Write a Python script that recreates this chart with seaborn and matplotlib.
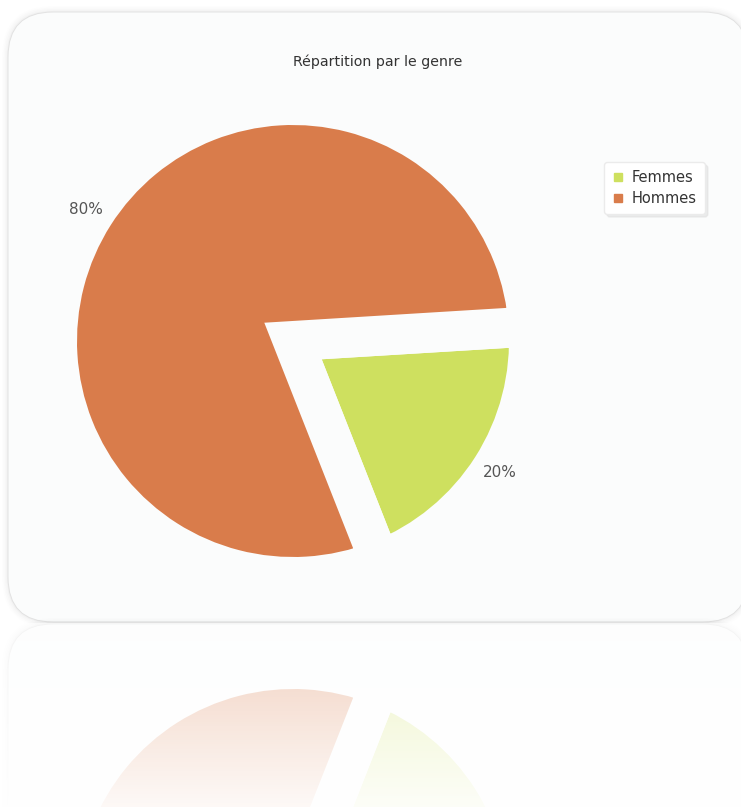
import numpy as np
import matplotlib
matplotlib.use('Agg')
import matplotlib.pyplot as plt
from matplotlib.patches import FancyBboxPatch
from matplotlib.lines import Line2D
import seaborn as sns

# ---- data ----
categories = ['Femmes', 'Hommes']
values = [20, 80]
colors_hex = ['#cee05f', '#d97c4b']
title = 'Répartition par le genre'

sns.set_theme(style='white')
plt.rcParams['font.family'] = ['DejaVu Sans']
palette = sns.color_palette(colors_hex)

W, H = 741, 807
fig = plt.figure(figsize=(W / 100, H / 100), dpi=100)
fig.patch.set_facecolor('white')


def ax_px(x0, y0, w, h):
    return fig.add_axes([x0 / W, 1 - (y0 + h) / H, w / W, h / H])


# background axes in pixel units
bg = ax_px(0, 0, W, H)
bg.set_xlim(0, W)
bg.set_ylim(H, 0)
bg.axis('off')

card_col = '#fbfcfc'


def card(ax, y_top, y_bot):
    for i, a in enumerate([0.035, 0.025, 0.018, 0.01]):
        pad = 1.5 * (i + 1)
        ax.add_patch(FancyBboxPatch((8 - pad, y_top - pad), 740 + 2 * pad,
                                    (y_bot - y_top) + 2 * pad,
                                    boxstyle=f'round,pad=0,rounding_size={45 + pad}',
                                    fc='#808080', ec='none', alpha=a))
    ax.add_patch(FancyBboxPatch((8, y_top), 740, y_bot - y_top,
                                boxstyle='round,pad=0,rounding_size=45',
                                fc=card_col, ec='#e2e2e2', lw=0.7))


card(bg, 12, 622)
card(bg, 624, 1234)

# ---- main pie ----
R = 236.0
S = 2.6 * R
cx, cy = 293, 341
wprops = dict(edgecolor=card_col, linewidth=28.8, joinstyle='miter')

pax = ax_px(cx - S / 2, cy - S / 2, S, S)
wedges, texts, autotexts = pax.pie(values, colors=palette, startangle=-68.5,
                                   counterclock=True, autopct='%.0f%%',
                                   pctdistance=1.04, radius=1,
                                   wedgeprops=wprops,
                                   textprops=dict(color='#555555', fontsize=11))
pax.set_xlim(-1.3, 1.3)
pax.set_ylim(-1.3, 1.3)
pax.axis('off')

# ---- reflection ----
mirror = 623
rax = ax_px(cx - S / 2, 2 * mirror - cy - S / 2, S, S)
rax.pie(values, colors=palette, startangle=-68.5, counterclock=True,
        radius=1, wedgeprops=wprops)
rax.set_xlim(-1.3, 1.3)
rax.set_ylim(1.3, -1.3)
rax.axis('off')

ov = ax_px(0, mirror, W, H - mirror)
yy = np.linspace(mirror, H, 300)
vis = np.clip(0.36 - (yy - mirror) * 0.32 / (H - mirror), 0, 1)
img = np.ones((300, 1, 4))
img[:, 0, 3] = 1 - vis
ov.imshow(img, aspect='auto', extent=[0, 1, 1, 0], interpolation='bilinear')
ov.set_xlim(0, 1)
ov.set_ylim(1, 0)
ov.axis('off')

# ---- title ----
fig.text(377.5 / W, 1 - 62 / H, title, ha='center', va='center',
         fontsize=10.2, color='#333333')

# ---- legend ----
handles = [Line2D([], [], marker='s', ls='', markersize=5.5, color=c)
           for c in palette]
leg = fig.legend(handles, categories, loc='upper left',
                 bbox_to_anchor=(597 / W, 1 - 155 / H), frameon=True,
                 fancybox=True, fontsize=10.5, handlelength=0.8,
                 handletextpad=0.55, borderpad=0.55, labelspacing=0.4,
                 labelcolor='#333333', shadow={'color': '0.88', 'alpha': 0.6})
leg.get_frame().set_edgecolor('#ebebeb')
leg.get_frame().set_facecolor('white')

fig.savefig('out.png', dpi=100, facecolor='white')
